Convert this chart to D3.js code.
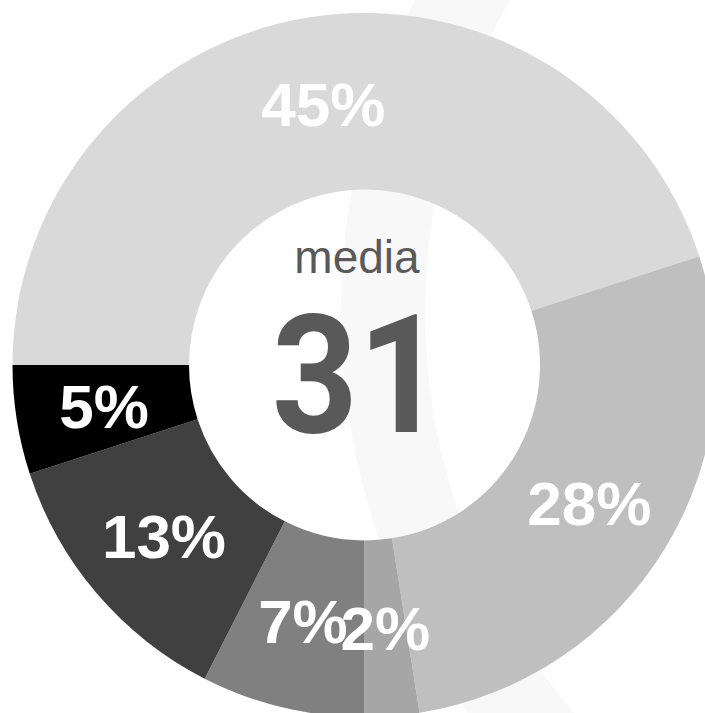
<!DOCTYPE html>
<html>
<head>
<meta charset="utf-8">
<script src="https://cdn.jsdelivr.net/npm/d3@7"></script>
<style>
  html, body { margin: 0; padding: 0; background: #ffffff; }
  svg { display: block; }
</style>
</head>
<body>
<svg id="chart" width="705" height="713"></svg>
<script>
// ---- data ----
const categories = ["A", "B", "C", "D", "E", "F"];
const counts = [18, 11, 1, 3, 5, 2];
const labels = ["45%", "28%", "2%", "7%", "13%", "5%"];
const colors = ["#d9d9d9", "#bfbfbf", "#a6a6a6", "#808080", "#404040", "#000000"];
const centerTitle = "media";
const centerValue = "31";

// ---- layout ----
const W = 705, H = 713;
const cx = 364.5, cy = 365;
const outerR = 352, innerR = 175.5;

const svg = d3.select("#chart");

// faint decorative band behind the donut
svg.append("circle")
  .attr("cx", 1038).attr("cy", 312).attr("r", 655)
  .attr("fill", "none")
  .attr("stroke", "#f8f8f8")
  .attr("stroke-width", 84);

const g = svg.append("g").attr("transform", `translate(${cx},${cy})`);

const pie = d3.pie()
  .value(d => d.value)
  .sort(null)
  .startAngle(-Math.PI / 2)
  .endAngle(3 * Math.PI / 2);

const data = categories.map((c, i) => ({ cat: c, value: counts[i], label: labels[i], color: colors[i] }));
const arcs = pie(data);

const arc = d3.arc().innerRadius(innerR).outerRadius(outerR);

g.selectAll("path.slice")
  .data(arcs)
  .join("path")
  .attr("class", "slice")
  .attr("d", arc)
  .attr("fill", d => d.data.color);

g.selectAll("text.lbl")
  .data(arcs)
  .join("text")
  .attr("class", "lbl")
  .attr("transform", d => `translate(${arc.centroid(d)})`)
  .attr("text-anchor", "middle")
  .attr("dy", "0.35em")
  .attr("fill", "#ffffff")
  .attr("font-family", "'Liberation Sans', Arial, sans-serif")
  .attr("font-weight", "bold")
  .attr("font-size", 62)
  .text(d => d.data.label);

svg.append("text")
  .attr("x", 357).attr("y", 273)
  .attr("text-anchor", "middle")
  .attr("fill", "#595959")
  .attr("font-family", "'Liberation Sans', Arial, sans-serif")
  .attr("font-size", 46)
  .text(centerTitle);

svg.append("text")
  .attr("transform", "translate(358,432) scale(0.906,1)")
  .attr("text-anchor", "middle")
  .attr("fill", "#595959")
  .attr("font-family", "Roboto, 'Liberation Sans', Arial, sans-serif")
  .attr("font-weight", "bold")
  .attr("font-size", 166)
  .text(centerValue);
</script>
</body>
</html>
